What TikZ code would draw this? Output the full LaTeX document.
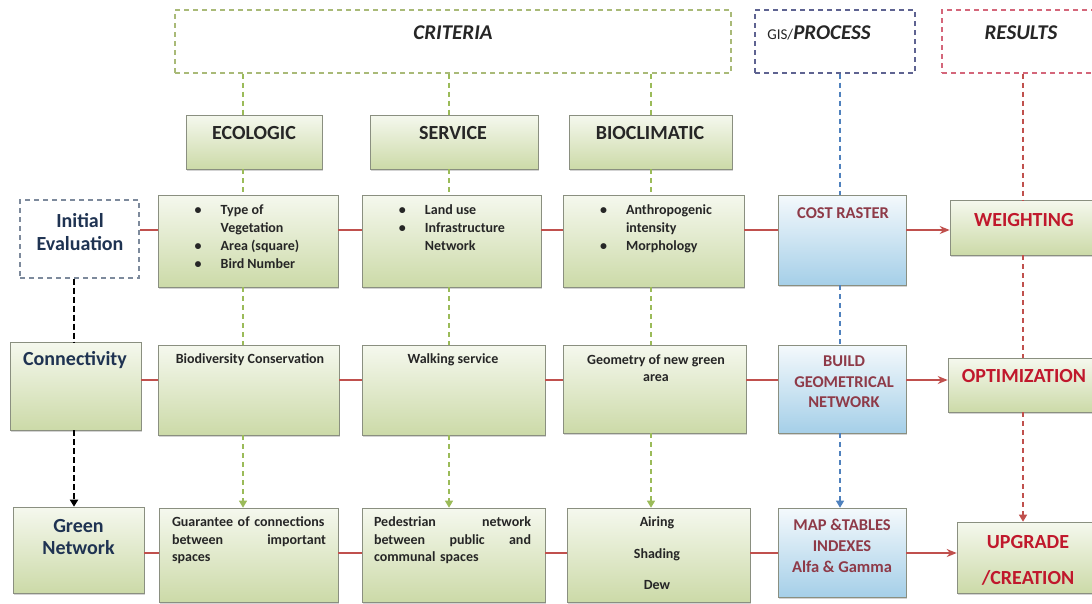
\documentclass[tikz,border=0pt]{standalone}
\usepackage{fontspec}
\setmainfont{Carlito}
\usetikzlibrary{arrows.meta,shadows}
\tikzset {>={Stealth[length=10pt,width=8pt]}}
\definecolor{gtopC}{HTML}{F5F8EE}
\definecolor{gbotC}{HTML}{CCDAA8}
\definecolor{btopC}{HTML}{F4F9FC}
\definecolor{bbotC}{HTML}{A5CFE8}
\definecolor{bordC}{HTML}{8A8F80}
\definecolor{gC}{HTML}{9BBB59}
\definecolor{bC}{HTML}{4F81BD}
\definecolor{rC}{HTML}{C0504D}
\definecolor{critC}{HTML}{A9BA78}
\definecolor{gisC}{HTML}{5E6391}
\definecolor{resC}{HTML}{D4667A}
\definecolor{initC}{HTML}{7D8A9C}
\definecolor{redT}{HTML}{C0182C}
\definecolor{marT}{HTML}{8E3A48}
\definecolor{navT}{HTML}{1F3352}
\definecolor{txtC}{HTML}{262626}
\newcommand*{\bu}{\textbullet}

\begin{document}
\begin{tikzpicture}[x=1pt,y=-1pt,
  gbox/.style={draw=bordC,line width=.6pt,top color=gtopC,bottom color=gbotC,inner sep=0pt,
    drop shadow={shadow xshift=1pt,shadow yshift=-2pt,opacity=.35}},
  bbox/.style={gbox,top color=btopC,bottom color=bbotC},
  dbox/.style={draw=#1,dash pattern=on 5pt off 4pt,line width=1.1pt,inner sep=0pt},
  hd/.style={font=\fontsize{20}{23}\selectfont\bfseries,text=txtC,align=center,inner sep=0pt},
  sm/.style={font=\fontsize{14}{18}\selectfont\bfseries,text=txtC,inner sep=0pt},
  md/.style={font=\fontsize{16.5}{20.5}\selectfont\bfseries,text=marT,align=center,inner sep=0pt},
  rline/.style={draw=rC,line width=1.5pt},
  cdash/.style={draw=#1,dash pattern=on 5pt off 4pt,line width=1.2pt},
  tri/.style={-{Triangle[length=7pt,width=8pt]}}]
\useasboundingbox (0,0) rectangle (1092,603);
% top frames
\node[dbox=critC,minimum width=556pt,minimum height=63pt] (crit) at (453,41.5) {};
\node[dbox=gisC,minimum width=160pt,minimum height=63pt] (gis) at (835,41.5) {};
\node[dbox=resC,minimum width=158pt,minimum height=63pt] (res) at (1021,41.5) {};
\node[hd,font=\fontsize{21}{24}\selectfont\bfseries\itshape] (critT) at (453,33) {CRITERIA};
\node[hd,font=\fontsize{21}{24}\selectfont\bfseries] (gisT) at (819,33) {{\fontsize{15}{17}\selectfont\mdseries GIS/}\itshape PROCESS};
\node[hd,font=\fontsize{21}{24}\selectfont\bfseries\itshape] (resT) at (1021,33) {RESULTS};
% criteria heads
\node[gbox,minimum width=136pt,minimum height=54pt] (eco) at (254,142) {};
\node[gbox,minimum width=168pt,minimum height=54pt] (ser) at (454,142) {};
\node[gbox,minimum width=163pt,minimum height=54pt] (bio) at (650.5,142) {};
\node[hd] (ecoT) at (254,133) {ECOLOGIC};
\node[hd] (serT) at (453,133) {SERVICE};
\node[hd] (bioT) at (650,133) {BIOCLIMATIC};
% row 1
\node[dbox=initC,minimum width=119pt,minimum height=78pt] (init) at (79.5,239) {};
\node[gbox,minimum width=180pt,minimum height=92pt] (eco1) at (248,241) {};
\node[gbox,minimum width=179pt,minimum height=92pt] (ser1) at (451.5,241) {};
\node[gbox,minimum width=181pt,minimum height=92pt] (bio1) at (653.5,241) {};
\node[bbox,minimum width=128pt,minimum height=90pt] (cost) at (842,240) {};
\node[gbox,minimum width=150pt,minimum height=55pt] (wgt) at (1025,227.5) {};
\node[hd,text=navT] (initT) at (80,232) {Initial\\Evaluation};
\node[sm] (eco1T) at (247,238) {\begin{tabular}{@{}l@{\hspace{19pt}}l@{}}\bu&Type of\\&Vegetation\\\bu&Area (square)\\\bu&Bird Number\end{tabular}};
\node[sm] (ser1T) at (452,229) {\begin{tabular}{@{}l@{\hspace{19pt}}l@{}}\bu&Land use\\\bu&Infrastructure\\&Network\end{tabular}};
\node[sm] (bio1T) at (656,229) {\begin{tabular}{@{}l@{\hspace{19pt}}l@{}}\bu&Anthropogenic\\&intensity\\\bu&Morphology\end{tabular}};
\node[md] (costT) at (843,213) {COST RASTER};
\node[hd,text=redT] (wgtT) at (1024,220) {WEIGHTING};
% row 2
\node[gbox,minimum width=131pt,minimum height=88pt] (conn) at (75.5,386) {};
\node[gbox,minimum width=181pt,minimum height=90pt] (eco2) at (248.5,390) {};
\node[gbox,minimum width=183pt,minimum height=90pt] (ser2) at (453.5,390) {};
\node[gbox,minimum width=183pt,minimum height=88pt] (bio2) at (654.5,389) {};
\node[bbox,minimum width=128pt,minimum height=88pt] (build) at (842,389) {};
\node[gbox,minimum width=152pt,minimum height=54pt] (opt) at (1024,385) {};
\node[hd,text=navT] (connT) at (75,360) {Connectivity};
\node[sm] (eco2T) at (250,360) {Biodiversity Conservation};
\node[sm] (ser2T) at (453,360) {Walking service};
\node[sm,align=center,font=\fontsize{14}{17}\selectfont\bfseries] (bio2T) at (656,368.5) {Geometry of new green\\area};
\node[md] (buildT) at (844,382) {BUILD\\GEOMETRICAL\\NETWORK};
\node[hd,text=redT] (optT) at (1024,376) {OPTIMIZATION};
% row 3
\node[gbox,minimum width=131pt,minimum height=86pt] (green) at (78.5,550) {};
\node[gbox,minimum width=179pt,minimum height=94pt] (eco3) at (248.5,555) {};
\node[gbox,minimum width=183pt,minimum height=94pt] (ser3) at (453.5,555) {};
\node[gbox,minimum width=183pt,minimum height=94pt] (bio3) at (658.5,555) {};
\node[bbox,minimum width=128pt,minimum height=89pt] (map) at (842,552.5) {};
\node[gbox,minimum width=143pt,minimum height=71pt] (upg) at (1028.5,557.5) {};
\node[hd,text=navT,font=\fontsize{20}{22}\selectfont\bfseries] (greenT) at (78.5,537.5) {Green\\Network};
\node[sm,align=left,text width=154pt,font=\fontsize{14}{17.5}\selectfont\bfseries] (eco3T) at (249,540.5) {Guarantee of connections\\between\hfill important\\spaces};
\node[sm,align=left,text width=157pt,font=\fontsize{14}{17.5}\selectfont\bfseries] (ser3T) at (452.5,540.5) {Pedestrian\hfill network\\between\hfill public\hfill and\\communal spaces};
\node[sm,align=center,font=\fontsize{14}{31.5}\selectfont\bfseries] (bio3T) at (657,553.5) {Airing\\Shading\\Dew};
\node[md,font=\fontsize{16.5}{21}\selectfont\bfseries] (mapT) at (842,546) {MAP \&TABLES\\INDEXES\\Alfa \& Gamma};
\node[hd,text=redT,font=\fontsize{20}{36}\selectfont\bfseries] (upgT) at (1028,560) {UPGRADE\\/CREATION};
% connectors
\coordinate (r1) at (0,230);
\coordinate (r2) at (0,380);
\coordinate (r3) at (0,553);
\coordinate (k0) at (74,0);
\coordinate (k1) at (243,0);
\coordinate (k2) at (449,0);
\coordinate (k3) at (651,0);
\coordinate (k4) at (840,0);
\coordinate (k5) at (1023,0);
\draw[rline] (init.east |- r1) -- (eco1.west |- r1);
\draw[rline] (eco1.east |- r1) -- (ser1.west |- r1);
\draw[rline] (ser1.east |- r1) -- (bio1.west |- r1);
\draw[rline] (bio1.east |- r1) -- (cost.west |- r1);
\draw[rline,->] (cost.east |- r1) -- (wgt.west |- r1);
\draw[rline] (conn.east |- r2) -- (eco2.west |- r2);
\draw[rline] (eco2.east |- r2) -- (ser2.west |- r2);
\draw[rline] (ser2.east |- r2) -- (bio2.west |- r2);
\draw[rline] (bio2.east |- r2) -- (build.west |- r2);
\draw[rline,line width=2pt,->] (build.east |- r2) -- (opt.west |- r2);
\draw[rline] (green.east |- r3) -- (eco3.west |- r3);
\draw[rline] (eco3.east |- r3) -- (ser3.west |- r3);
\draw[rline] (ser3.east |- r3) -- (bio3.west |- r3);
\draw[rline] (bio3.east |- r3) -- (map.west |- r3);
\draw[rline,line width=2pt,->] (map.east |- r3) -- (upg.west |- r3);
\foreach \k/\a/\b/\c/\d in {k1/eco/eco1/eco2/eco3,k2/ser/ser1/ser2/ser3,k3/bio/bio1/bio2/bio3}{
  \draw[cdash=gC] (crit.south -| \k) -- (\a.north -| \k);
  \draw[cdash=gC] (\a.south -| \k) -- (\b.north -| \k);
  \draw[cdash=gC] (\b.south -| \k) -- (\c.north -| \k);
  \draw[cdash=gC,tri] (\c.south -| \k) -- (\d.north -| \k);
}
\foreach \k/\a/\b/\c/\d/\col in {k4/gis/cost/build/map/bC,k5/res/wgt/opt/upg/rC}{
  \draw[cdash=\col] (\a.south -| \k) -- (\b.north -| \k);
  \draw[cdash=\col] (\b.south -| \k) -- (\c.north -| \k);
  \draw[cdash=\col,tri] (\c.south -| \k) -- (\d.north -| \k);
}
\draw[cdash=black,line width=2pt,dash pattern=on 6pt off 3pt] (init.south -| k0) -- (conn.north -| k0);
\draw[cdash=black,line width=2pt,dash pattern=on 6pt off 3pt,tri] (conn.south -| k0) -- (green.north -| k0);
\end{tikzpicture}
\end{document}
